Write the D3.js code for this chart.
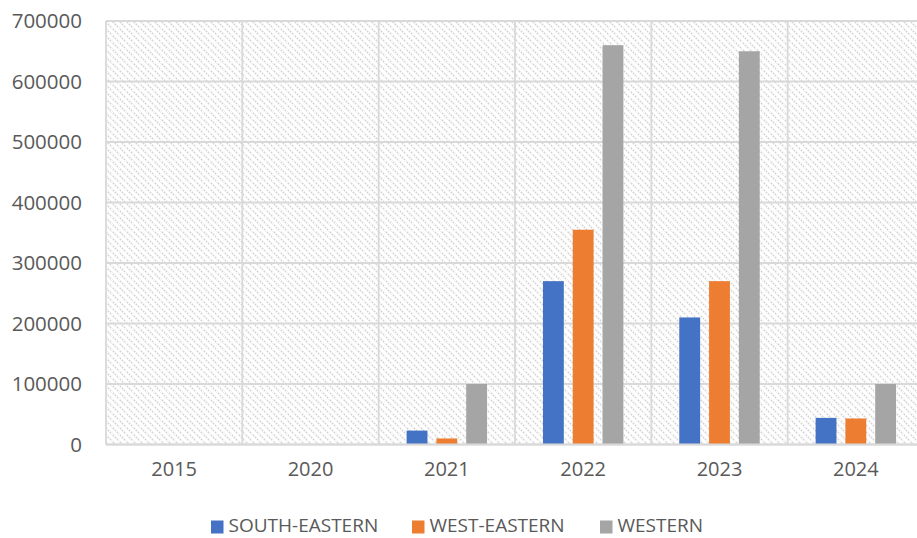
<!DOCTYPE html>
<html>
<head>
<meta charset="utf-8">
<script src="https://cdn.jsdelivr.net/npm/d3@7"></script>
<style>
  html, body { margin: 0; padding: 0; background: #ffffff; }
  svg { display: block; }
  text { font-family: "Open Sans", "Noto Sans", sans-serif; fill: #595959; }
</style>
</head>
<body>
<svg id="chart" width="917" height="538"></svg>
<script>
// Years on the category axis
const years = ["2015", "2020", "2021", "2022", "2023", "2024"];
// Series names
const seriesNames = ["SOUTH-EASTERN", "WEST-EASTERN", "WESTERN"];
// Values per series, one per year
const southEastern = [0, 0, 23000, 270000, 210000, 44000];
const westEastern = [0, 0, 10000, 355000, 270000, 43000];
const western = [0, 0, 100000, 660000, 650000, 100000];
// Y axis ticks
const yTicks = [0, 100000, 200000, 300000, 400000, 500000, 600000, 700000];

const seriesValues = [southEastern, westEastern, western];
const colors = ["#4472C4", "#ED7D31", "#A5A5A5"];

const svg = d3.select("#chart");
const plot = { left: 106, right: 924, top: 21, bottom: 444.5 };

// Diagonal hatch fill for the plot background
const defs = svg.append("defs");
const s = 7;
const pat = defs.append("pattern")
  .attr("id", "hatch")
  .attr("patternUnits", "userSpaceOnUse")
  .attr("width", s).attr("height", s);
pat.append("rect").attr("width", s).attr("height", s).attr("fill", "#ffffff");
pat.append("path")
  .attr("d", `M-1,-1 L${s + 1},${s + 1} M-${s},0 L0,${s} M0,-${s} L${s},0`)
  .attr("stroke", "#d6d6d6")
  .attr("stroke-width", 1.8)
  .attr("stroke-dasharray", "1.5,1.3");

const x0 = d3.scaleBand().domain(years).range([plot.left, plot.right]).paddingInner(0).paddingOuter(0);
const groupW = x0.bandwidth() * 0.59;
const x1 = d3.scaleBand().domain(seriesNames).range([0, groupW]).paddingInner(0.3).paddingOuter(0);
const y = d3.scaleLinear().domain([0, 700000]).range([plot.bottom, plot.top]);

svg.append("rect")
  .attr("x", plot.left).attr("y", plot.top)
  .attr("width", plot.right - plot.left).attr("height", plot.bottom - plot.top)
  .attr("fill", "url(#hatch)");

// Horizontal gridlines
svg.append("g").selectAll("line").data(yTicks).join("line")
  .attr("x1", plot.left).attr("x2", plot.right)
  .attr("y1", d => y(d)).attr("y2", d => y(d))
  .attr("stroke", "#d9d9d9").attr("stroke-width", 1.8);

// Vertical gridlines at category boundaries
const bounds = years.map(d => x0(d));
svg.append("g").selectAll("line").data(bounds).join("line")
  .attr("x1", d => d).attr("x2", d => d)
  .attr("y1", plot.top).attr("y2", plot.bottom)
  .attr("stroke", "#d9d9d9").attr("stroke-width", 1.8);

// Bars
const groups = svg.append("g").selectAll("g").data(years).join("g")
  .attr("transform", d => `translate(${x0(d) + (x0.bandwidth() - groupW) / 2},0)`);
groups.selectAll("rect")
  .data((d, i) => seriesNames.map((s, k) => ({ s, k, v: seriesValues[k][i] })))
  .join("rect")
  .filter(d => d.v > 0)
  .attr("x", d => x1(d.s))
  .attr("width", x1.bandwidth())
  .attr("y", d => y(d.v))
  .attr("height", d => y(0) - y(d.v))
  .attr("fill", d => colors[d.k]);

// Bottom axis line
svg.append("line")
  .attr("x1", plot.left).attr("x2", plot.right)
  .attr("y1", plot.bottom).attr("y2", plot.bottom)
  .attr("stroke", "#d9d9d9").attr("stroke-width", 1.8);

// Y axis labels
const yAxis = d3.axisLeft(y).tickValues(yTicks).tickSize(0).tickPadding(0).tickFormat(d3.format("d"));
const gy = svg.append("g").attr("transform", `translate(82,0)`).call(yAxis);
gy.select(".domain").remove();
gy.selectAll("text").attr("font-size", 20.5).attr("font-family", null).attr("fill", "#595959");

// X axis labels
const xAxis = d3.axisBottom(x0).tickSize(0).tickPadding(0);
const gx = svg.append("g").attr("transform", `translate(0,${plot.bottom + 17})`).call(xAxis);
gx.select(".domain").remove();
gx.selectAll("text").attr("font-size", 20).attr("font-family", null).attr("fill", "#595959");

// Legend
const legendX = [211, 412, 600];
const legend = svg.append("g").selectAll("g").data(seriesNames).join("g")
  .attr("transform", (d, i) => `translate(${legendX[i]},525)`);
legend.append("rect").attr("x", 0).attr("y", -4.5).attr("width", 12.5).attr("height", 13)
  .attr("fill", (d, i) => colors[i]);
legend.append("text").attr("x", 17.5).attr("dy", "0.35em")
  .attr("font-size", 19).text(d => d);
</script>
</body>
</html>
